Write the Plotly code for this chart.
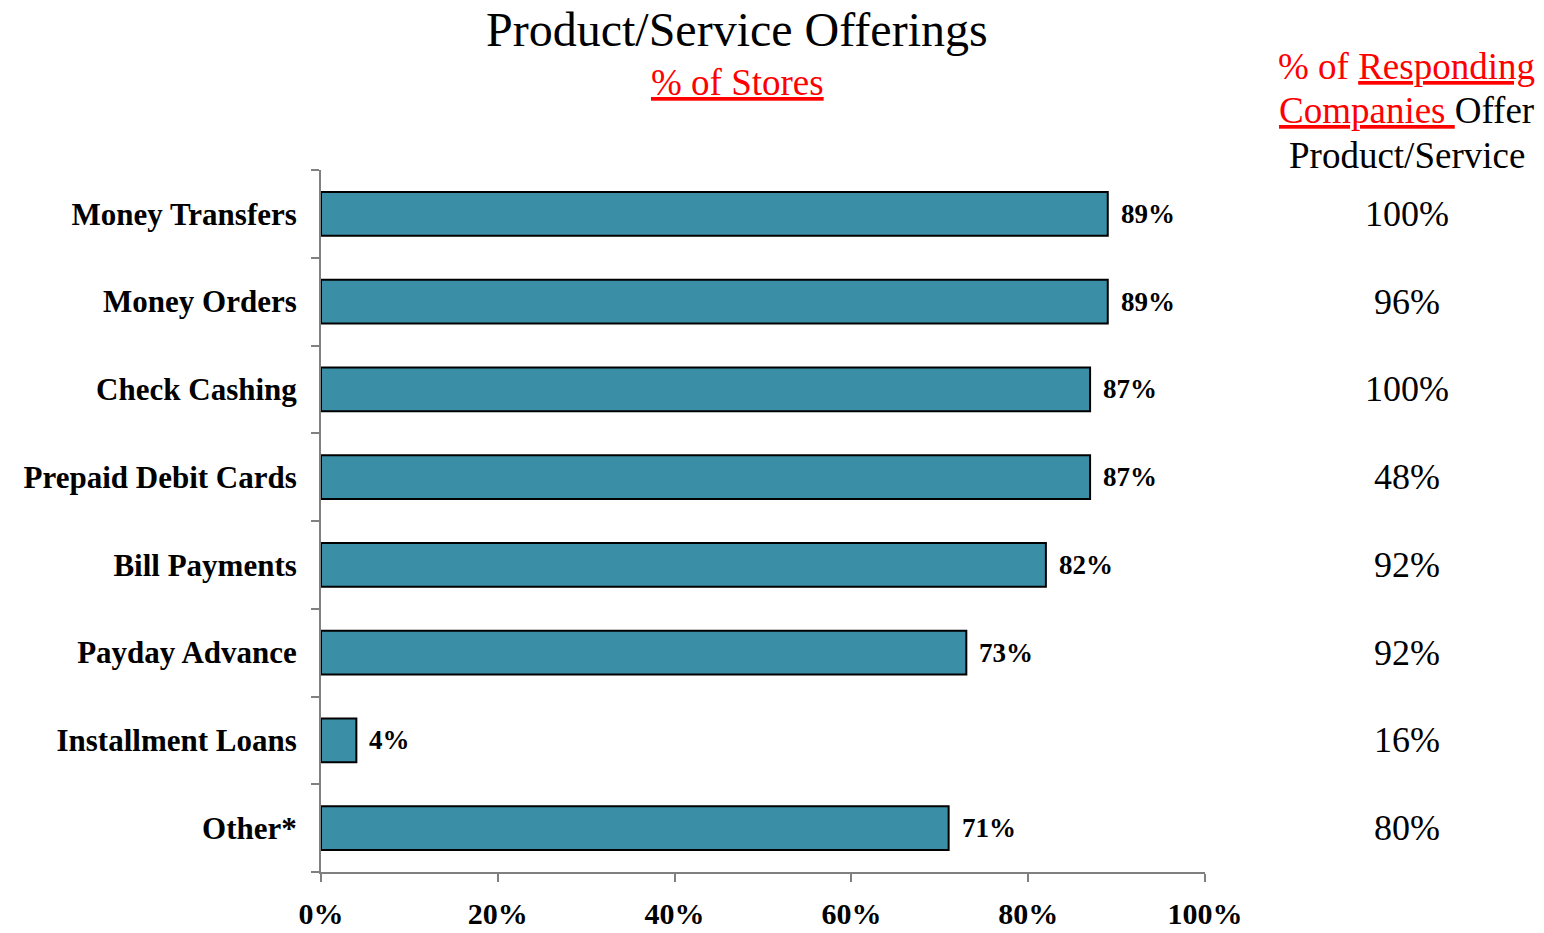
import plotly.graph_objects as go

# Survey results: share of stores offering each product/service
categories = [
    "Money Transfers",
    "Money Orders",
    "Check Cashing",
    "Prepaid Debit Cards",
    "Bill Payments",
    "Payday Advance",
    "Installment Loans",
    "Other*",
]
pct_stores = [89, 89, 87, 87, 82, 73, 4, 71]
# Share of responding companies offering each product/service
pct_companies = [100, 96, 100, 48, 92, 92, 16, 80]
x_ticks = [0, 20, 40, 60, 80, 100]

SERIF = "Liberation Serif, Times New Roman, serif"
BAR_COLOR = "#3A8FA6"
AXIS_COLOR = "#808080"

W, H = 1544, 933
M_L, M_R, M_T, M_B = 321, 339, 170, 61
PLOT_H = H - M_T - M_B


def paper_y(px):
    """Convert a pixel row (from the top of the page) to paper y."""
    return (H - M_B - px) / PLOT_H


fig = go.Figure()
fig.add_trace(
    go.Bar(
        y=categories,
        x=pct_stores,
        orientation="h",
        marker=dict(color=BAR_COLOR, line=dict(color="black", width=2)),
        hoverinfo="skip",
    )
)

annotations = []
# value labels next to each bar
for cat, v in zip(categories, pct_stores):
    annotations.append(
        dict(
            x=v, y=cat, xref="x", yref="y",
            text=f"<b>{v}%</b>",
            showarrow=False, xanchor="left", yanchor="middle",
            xshift=11,
            font=dict(family=SERIF, size=27, color="black"),
        )
    )

# right-hand column: companies offering the service
COL_X = 1.2285
for cat, v in zip(categories, pct_companies):
    annotations.append(
        dict(
            x=COL_X, y=cat, xref="paper", yref="y",
            text=f"{v}%",
            showarrow=False, xanchor="center", yanchor="middle",
            font=dict(family=SERIF, size=36, color="black"),
        )
    )

header_lines = [
    ("<span style='color:red'>% of <u>Responding</u></span>", 66),
    ("<span style='color:red'><u>Companies </u></span>Offer", 110),
    ("Product/Service", 155),
]
for txt, row in header_lines:
    annotations.append(
        dict(
            x=COL_X, y=paper_y(row), xref="paper", yref="paper",
            text=txt,
            showarrow=False, xanchor="center", yanchor="middle",
            font=dict(family=SERIF, size=37, color="black"),
        )
    )

# chart title and subtitle
annotations.append(
    dict(
        x=(737 - M_L) / (W - M_L - M_R), y=paper_y(30),
        xref="paper", yref="paper",
        text="Product/Service Offerings",
        showarrow=False, xanchor="center", yanchor="middle",
        font=dict(family=SERIF, size=48, color="black"),
    )
)
annotations.append(
    dict(
        x=(737 - M_L) / (W - M_L - M_R), y=paper_y(82),
        xref="paper", yref="paper",
        text="<u>% of Stores</u>",
        showarrow=False, xanchor="center", yanchor="middle",
        font=dict(family=SERIF, size=37, color="red"),
    )
)

fig.update_layout(
    width=W,
    height=H,
    margin=dict(l=M_L, r=M_R, t=M_T, b=M_B),
    paper_bgcolor="white",
    plot_bgcolor="white",
    showlegend=False,
    bargap=0.5,
    xaxis=dict(
        range=[0, 100],
        tickvals=x_ticks,
        ticktext=[f"<b>{t}%</b>" for t in x_ticks],
        showgrid=False,
        zeroline=False,
        showline=True,
        linecolor=AXIS_COLOR,
        linewidth=2,
        ticks="outside",
        ticklen=8,
        tickwidth=2,
        tickcolor=AXIS_COLOR,
        tickfont=dict(family=SERIF, size=30, color="black"),
        ticklabelstandoff=6,
        automargin=False,
        fixedrange=True,
    ),
    yaxis=dict(
        type="category",
        categoryorder="array",
        categoryarray=categories,
        autorange="reversed",
        tickvals=categories,
        ticktext=[f"<b>{c}</b>" for c in categories],
        tickson="boundaries",
        showgrid=False,
        zeroline=False,
        showline=True,
        linecolor=AXIS_COLOR,
        linewidth=2,
        ticks="outside",
        ticklen=8,
        tickwidth=2,
        tickcolor=AXIS_COLOR,
        tickfont=dict(family=SERIF, size=31, color="black"),
        ticklabelstandoff=16,
        automargin=False,
        fixedrange=True,
    ),
    annotations=annotations,
)

fig.write_html("out.html")
